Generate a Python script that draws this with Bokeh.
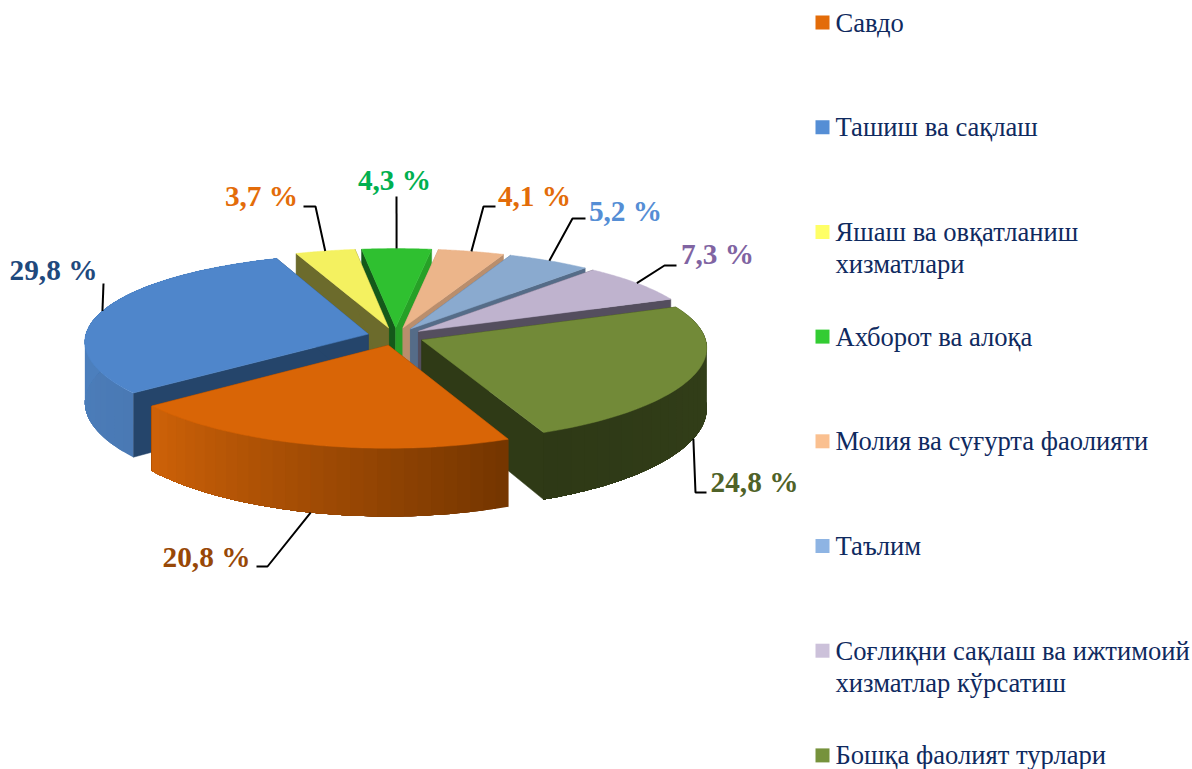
import numpy as np
from bokeh.plotting import figure
from bokeh.core.properties import value
from bokeh.embed import file_html
from bokeh.resources import INLINE

# ---- data (clockwise from the start angle) ----
categories = ["Савдо", "Ташиш ва сақлаш", "Яшаш ва овқатланиш\nхизматлари", "Ахборот ва алоқа",
              "Молия ва суғурта фаолияти", "Таълим",
              "Соғлиқни сақлаш ва ижтимоий\nхизматлар кўрсатиш", "Бошқа фаолият турлари"]
shares = [20.8, 29.8, 3.7, 4.3, 4.1, 5.2, 7.3, 24.8]
labels = ["20,8 %", "29,8 %", "3,7 %", "4,3 %", "4,1 %", "5,2 %", "7,3 %", "24,8 %"]

# ---- styles ----
top_colors = ["#d96506", "#4f86cb", "#f4f160", "#2fc030", "#ecb58a", "#8aaacf", "#bfb3ce", "#728a38"]
legend_colors = ["#e36c09", "#558ed5", "#ffff66", "#33cc33", "#fac090", "#8eb4e3", "#ccc1da", "#76923c"]
label_colors = ["#984807", "#1f497d", "#e36c09", "#00b050", "#e36c09", "#558ed5", "#8064a2", "#4f6228"]
face_start = ["#7a3a02", "#25456b", "#6c6b2c", "#14591a", "#b98e6d", "#556c88", "#544e5e", "#2f3a16"]
face_end = ["#7a3a02", "#25456b", "#6c6b2c", "#27a027", "#b98e6d", "#556c88", "#544e5e", "#2f3a16"]
wall_a = ["#753600", "#4a79b4", "#6c6b2c", "#14591a", "#b98e6d", "#556c88", "#544e5e", "#34411a"]
wall_b = ["#cf6208", "#5088cc", "#6c6b2c", "#27a027", "#b98e6d", "#556c88", "#544e5e", "#2e3916"]

# ---- projection ----
CX, CY, A, B, K, KX, D, EXPLODE, START = 395.0, 336.0, 283.0, 89.6, 0.11, 0.08, 60.0, 0.1, 157.0
W, H = 1192, 769


def project(u, v, z=0.0):
    s = 1.0 / (1.0 - K * v)
    sx = 1.0 / (1.0 - KX * v)
    return CX + A * u * sx, CY + B * v * s + z * D * s


def plane(theta, r=1.0):
    t = np.radians(theta)
    return r * np.sin(t), -r * np.cos(t)


def mix(c1, c2, f):
    a = [int(c1[i:i + 2], 16) for i in (1, 3, 5)]
    b = [int(c2[i:i + 2], 16) for i in (1, 3, 5)]
    return "#%02x%02x%02x" % tuple(int(round(x + (y - x) * f)) for x, y in zip(a, b))


total = sum(shares)
edges = START + np.concatenate([[0], np.cumsum(shares)]) / total * 360.0
mids = (edges[:-1] + edges[1:]) / 2.0

p = figure(width=W, height=H, x_range=(0, W), y_range=(H, 0), output_backend="svg",
           toolbar_location=None, min_border=0, outline_line_color=None)
p.axis.visible = False
p.grid.visible = False
p.background_fill_color = "#ffffff"
p.border_fill_color = "#ffffff"

draw_order = [3, 2, 4, 5, 6, 1, 7, 0]
for i in draw_order:
    t0, t1, m = edges[i], edges[i + 1], mids[i]
    ou, ov = plane(m, EXPLODE)
    ts = np.linspace(t0, t1, 61)
    rim = [plane(t) for t in ts]
    ru = np.array([ou + q[0] for q in rim])
    rv = np.array([ov + q[1] for q in rim])
    ax, ay = project(ou, ov)
    ax2, ay2 = project(ou, ov, 1)
    # cut faces
    for tt, col in ((t0, face_start[i]), (t1, face_end[i])):
        qu, qv = plane(tt)
        x1, y1 = project(ou + qu, ov + qv)
        x2, y2 = project(ou + qu, ov + qv, 1)
        p.patch([ax, x1, x2, ax2], [ay, y1, y2, ay2], fill_color=col, line_color=col, line_width=0.5)
    # rim wall: shaded bands painted over one another, so that no seams show
    tx, ty = project(ru, rv)
    bx, by = project(ru, rv, 1)
    for j in range(0, len(ts) - 1, 2):
        if rv[j:].max() < -0.05:
            continue
        col = mix(wall_a[i], wall_b[i], j / (len(ts) - 2))
        p.patch([*tx[j:], *bx[j:][::-1]], [*ty[j:], *by[j:][::-1]], fill_color=col, line_color=None)
    # top
    p.patch([ax, *tx], [ay, *ty], fill_color=top_colors[i], line_color=top_colors[i], line_width=0.5)

# ---- leaders and value labels ----
elbow_layout = [(267, 566, 256, 566), (103, 283, 103, 283), (315, 206, 303, 206), (396, 196, 396, 196),
                (483, 206, 495, 206), (572, 218, 585, 218), (664, 265, 676, 265), (695, 492, 706, 492)]
label_layout = [(206, 556), (53, 269), (261, 195), (394, 179), (534, 195), (625, 210), (717, 253), (754, 481)]
for i in range(len(shares)):
    ou, ov = plane(mids[i], EXPLODE)
    qu, qv = plane(mids[i])
    z = 1.0 if qv > 0.3 else 0.0
    x0, y0 = project(ou + qu, ov + qv, z)
    e = elbow_layout[i]
    p.line([x0, e[0], e[2]], [y0, e[1], e[3]], line_color="#000000", line_width=2)
    lx, ly = label_layout[i]
    p.text([lx], [ly], text=[labels[i]], text_color=label_colors[i], text_font=value("Liberation Serif"),
           text_font_style="bold", text_font_size="29.3px", text_align="center", text_baseline="middle")

# ---- legend ----
LEG_X, LEG_TOP, LEG_STEP, LINE = 822, 22, 104.7, 32
for i, name in enumerate(categories):
    y = LEG_TOP + LEG_STEP * i
    p.scatter([LEG_X], [y], marker="square", size=14, fill_color=legend_colors[i], line_color=None)
    for k, line in enumerate(name.split("\n")):
        p.text([835], [y + k * LINE], text=[line], text_color="#0f2a60",
               text_font=value("Liberation Serif"), text_font_size="26.6px",
               text_align="left", text_baseline="middle")

open("out.html", "w").write(file_html(p, INLINE))
